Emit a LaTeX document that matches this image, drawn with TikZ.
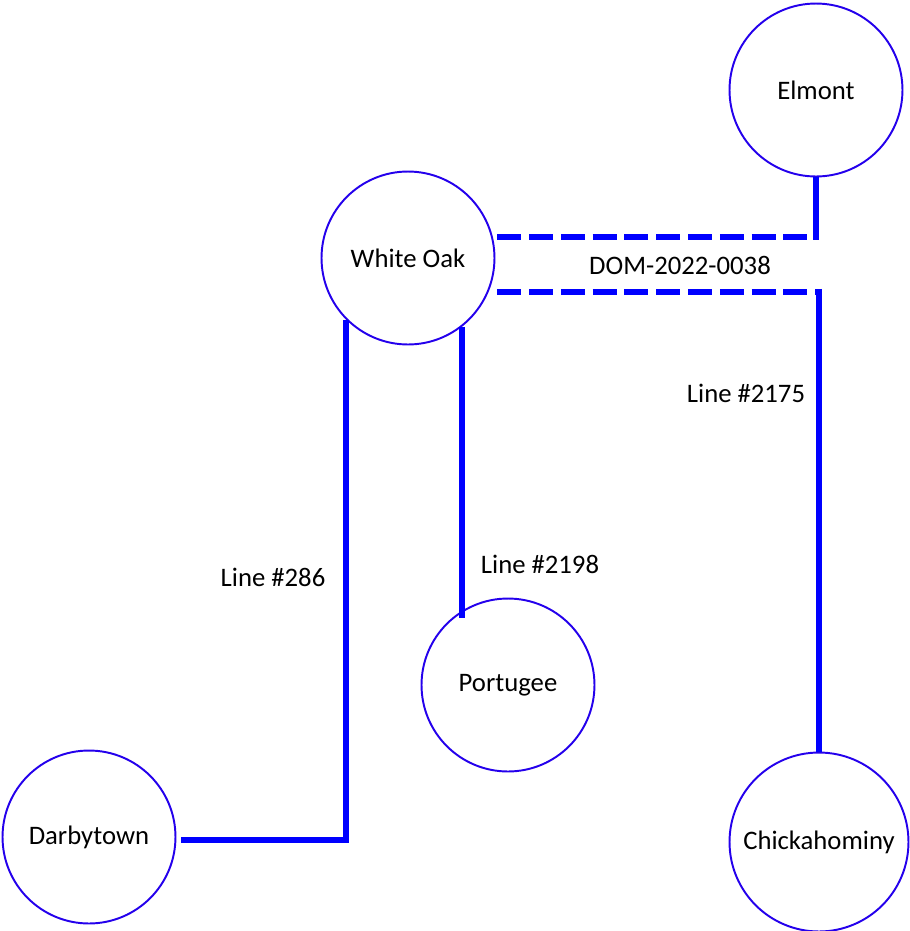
\documentclass[tikz,border=0pt]{standalone}
\usepackage{fontspec}
\setmainfont{Carlito}
\usepackage{xcolor}
\definecolor{ringblue}{RGB}{36,0,236}
\definecolor{lineblue}{RGB}{0,0,255}
\usetikzlibrary{positioning}

\begin{document}
\begin{tikzpicture}[x=0.02cm,y=-0.02cm,
      station/.style={circle,draw=ringblue,line width=1.1pt,fill=white,
      minimum size=3.46cm,inner sep=0pt,font=\fontsize{15.2}{17}\selectfont},
      lbl/.style={font=\fontsize{15.2}{17}\selectfont},
      feeder/.style={draw=lineblue,line width=3.6pt},
      planned/.style={feeder,dash pattern=on 13.6pt off 4.5pt}
    ]
    \useasboundingbox (0,0) rectangle (910,931);
    \node[station] at (816,90) (elm) {Elmont};
    \node[station] at (408,258) (wo) {White Oak};
    \node[station] at (508,685) (port) {Portugee};
    \node[station] at (89,837) (darby) {Darbytown};
    \node[station,minimum size=3.58cm] at (819,842) (chick) {Chickahominy};
    \coordinate (upper) at (0,237);
    \coordinate (lower) at (0,292);
    \coordinate (elmbend) at (elm.south |- upper);
    \coordinate (chbend) at (chick.north |- lower);
    % existing lines
    \draw[feeder] (wo.225) |- ([xshift=2.5pt]darby.-2);
    \draw[feeder] (wo.-52) -- (wo.-52 |- port.130);
    \draw[feeder] (elm.south) -- ([yshift=-1.8pt]elmbend);
    \draw[feeder] ([yshift=1.8pt]chbend) -- (chick.north);
    % proposed project
    \draw[planned] ([xshift=1pt]wo.east |- elmbend) -- (elmbend);
    \draw[planned] ([xshift=1pt]wo.east |- chbend) -- (chbend);
    \node[lbl] at (680,265) (dom) {DOM-2022-0038};
    \node[lbl] at (746,393) (l2175) {Line \#2175};
    \node[lbl] at (540,564) (l2198) {Line \#2198};
    \node[lbl] at (273,577) (l286) {Line \#286};
  \end{tikzpicture}
\end{document}
